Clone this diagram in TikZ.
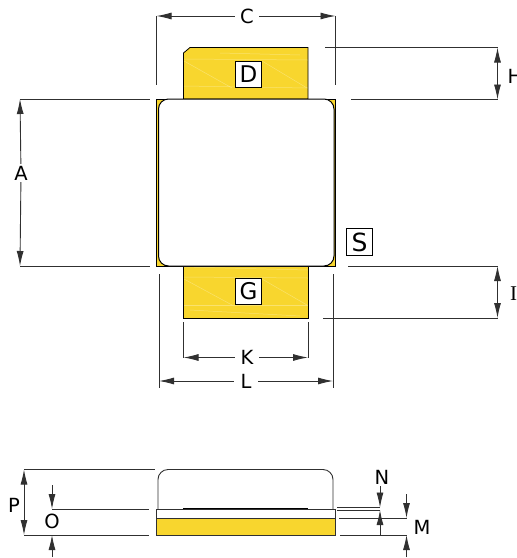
\documentclass[tikz,border=0pt]{standalone}
\usepackage{fontspec}
\setmainfont{DejaVu Sans}
\newfontfamily\serifi{Liberation Serif}
\usetikzlibrary{arrows.meta}
\definecolor{padyellow}{HTML}{F8D62E}
\definecolor{dimgrey}{HTML}{303030}
\tikzset{
  ln/.style={draw=dimgrey,line width=0.9pt},
  dimarrow/.style={ln,-{Latex[length=15pt,width=7pt]}},
  bothdim/.style={ln,{Latex[length=15pt,width=7pt]}-{Latex[length=15pt,width=7pt]}},
  outline/.style={draw=black,line width=1pt},
  pad/.style={fill=padyellow,draw=black,line width=0.8pt},
  streak/.style={draw=white,opacity=0.3,line width=0.5pt},
  lab/.style={font=\fontsize{19.5}{20}\selectfont,inner sep=0pt,minimum width=24pt,minimum height=18pt,text=black},
  tagbox/.style={draw=black,fill=white,line width=0.8pt,inner sep=0pt,minimum size=26.5pt,font=\fontsize{23}{23}\selectfont},
}
\begin{document}
\begin{tikzpicture}[x=1pt,y=-1pt]
\useasboundingbox (0,0) rectangle (517,558);
% pads
\draw[pad] (183.5,53) -- (190,47.5) -- (308,47.5) -- (308,99) -- (183.5,99) -- cycle;
\draw[pad] (183.5,266) rectangle (308,318);
\foreach \a/\b/\c/\d in {184/59/308/60,184/86/308/88,184/61/232/88,262/61/307/88,220/53/300/55,
  184/267/308/270,184/277/308/278,184/305/308/305,184/279/232/305,262/279/307/305,190/310/300/316}
  \draw[streak] (\a,\b) -- (\c,\d);
% body
\draw[pad] (156.5,99) rectangle (335.5,266);
\draw[outline,fill=white,rounded corners=10pt] (158.5,99) rectangle (334,266);
% tags
\node[tagbox] (D) at (248.5,74.5) {D};
\node[tagbox] (G) at (248.5,291.5) {G};
\node[tagbox,font=\fontsize{25}{25}\selectfont] (S) at (359.5,242) {S};
% labels
\node[lab] (C) at (247,16) {C};
\node[lab] (A) at (21,173) {A};
\node[lab] (H) at (515,76) {H};
\node[lab,minimum width=0pt,font=\serifi\fontsize{21}{21}\selectfont] (I) at (513.5,294) {I};
\node[lab] (K) at (247,357.5) {K};
\node[lab] (L) at (246,381) {L};
\node[lab] (P) at (14,505) {P};
\node[lab] (O) at (52,521) {O};
\node[lab] (N) at (382,477) {N};
\node[lab] (M) at (422,527) {M};
% C
\coordinate (cl) at (156.5,16); \coordinate (cr) at (335.5,16);
\coordinate (clb) at (156.5,85); \coordinate (crb) at (335.5,85);
\draw[ln] (cl) -- (clb); \draw[ln] (cr) -- (crb);
\draw[dimarrow] (C) -- (cl); \draw[dimarrow] (C) -- (cr);
% A
\coordinate (at) at (20,99); \coordinate (ab) at (20,266);
\coordinate (ate) at (150,99); \coordinate (abe) at (150,266);
\draw[ln] (at) -- (ate); \draw[ln] (ab) -- (abe);
\draw[dimarrow] (A) -- (at); \draw[dimarrow] (A) -- (ab);
% H
\coordinate (ht) at (497.5,47.5); \coordinate (hb) at (497.5,99.5);
\coordinate (hts) at (325,47.5); \coordinate (hbs) at (351,99.5);
\draw[ln] (hts) -- (ht); \draw[ln] (hbs) -- (hb);
\draw[bothdim] (ht) -- (hb);
% I
\coordinate (it) at (497.5,266); \coordinate (ib) at (497.5,318);
\coordinate (its) at (348,266); \coordinate (ibs) at (323,318);
\draw[ln] (its) -- (it); \draw[ln] (ibs) -- (ib);
\draw[bothdim] (it) -- (ib);
% K
\coordinate (kl) at (183.5,357.5); \coordinate (kr) at (308,357.5);
\coordinate (klt) at (183.5,322); \coordinate (krt) at (308,322);
\draw[ln] (klt) -- (kl); \draw[ln] (krt) -- (kr);
\draw[dimarrow] (K) -- (kl); \draw[dimarrow] (K) -- (kr);
% L
\coordinate (ll) at (159,381); \coordinate (lr) at (333,381);
\coordinate (llt) at (159,274); \coordinate (lrt) at (333,274);
\coordinate (llb) at (159,388); \coordinate (lrb) at (333,388);
\draw[ln] (llt) -- (llb); \draw[ln] (lrt) -- (lrb);
\draw[dimarrow] (L) -- (ll); \draw[dimarrow] (L) -- (lr);
% side view
\draw[ln,rounded corners=10pt] (158,509) -- (158,469.5) -- (333,469.5) -- (333,509);
\draw[draw=black,line width=1.2pt] (183,508.5) -- (308,508.5);
\draw[ln,fill=white] (156,509) rectangle (335.5,518.5);
\draw[ln,fill=padyellow] (156,518.5) rectangle (335.5,535);
% P
\coordinate (pt) at (24,469.5); \coordinate (pb) at (24,535);
\coordinate (pte) at (155,469.5); \coordinate (pbe) at (149,535);
\draw[ln] (pt) -- (pte); \draw[ln] (pb) -- (pbe);
\draw[bothdim] (pt) -- (pb);
% O
\coordinate (ot) at (52,509); \coordinate (ote) at (149,509);
\coordinate (ob) at (52,535);
\coordinate (os1) at (52,485); \coordinate (os2) at (52,557);
\draw[ln] (ot) -- (ote);
\draw[dimarrow] (os1) -- (ot); \draw[dimarrow] (os2) -- (ob);
% N
\coordinate (n1) at (380,507.5); \coordinate (n1s) at (337,507.5);
\coordinate (n2) at (380,510); \coordinate (n2s) at (337,510);
\coordinate (nb) at (380,535); \coordinate (ntop) at (380,486);
\draw[ln] (n1s) -- (n1); \draw[ln] (n2s) -- (n2);
\draw[dimarrow] (ntop) -- (n1); \draw[dimarrow] (nb) -- (n2);
% M
\coordinate (mt) at (406.5,518); \coordinate (mts) at (339,518);
\coordinate (mb) at (406.5,535); \coordinate (mbs) at (340,535);
\coordinate (m1) at (406.5,494); \coordinate (m2) at (406.5,557);
\draw[ln] (mts) -- (mt); \draw[ln] (mbs) -- (mb);
\draw[dimarrow] (m1) -- (mt); \draw[dimarrow] (m2) -- (mb);
\end{tikzpicture}
\end{document}
